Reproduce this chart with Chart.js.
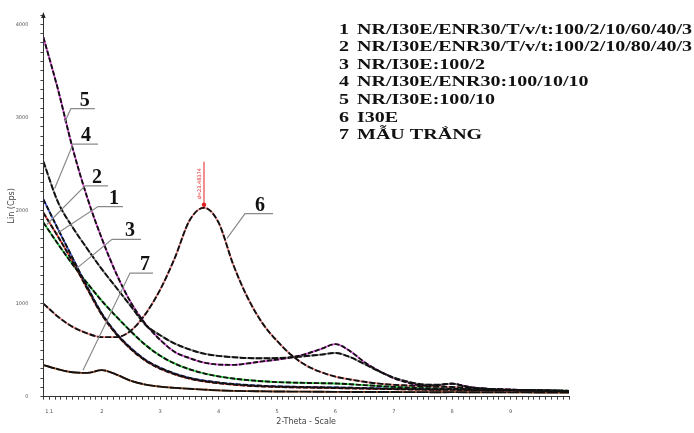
<!DOCTYPE html>
<html>
<head>
<meta charset="utf-8">
<script src="https://cdn.jsdelivr.net/npm/chart.js@4.4.1/dist/chart.umd.min.js"></script>
<style>
  html, body { margin: 0; padding: 0; background: #fff; }
  #wrap { width: 694px; height: 433px; }
</style>
</head>
<body>
<div id="wrap"><canvas id="c" width="694" height="433"></canvas></div>
<script>
// ---------- DATA ----------
const twoTheta = [1,1.25,1.5,1.75,2,2.25,2.5,2.75,3,3.25,3.5,3.75,4,4.25,4.5,4.75,5,5.25,5.5,5.75,6,6.25,6.5,6.75,7,7.25,7.5,7.75,8,8.25,8.5,8.75,9,9.25,9.5,9.75,10];

const s1 = [1975,1720,1450,1160,880,670,510,385,300,240,195,165,145,130,118,110,105,101,98,96,93,90,87,84,81,78,76,74,75,71,68,66,65,64,63,62,61];
const s2 = [2120,1800,1490,1180,895,680,520,395,310,248,202,172,152,137,125,117,111,107,104,101,99,96,93,89,86,83,80,78,79,75,72,70,68,66,65,64,63];
const s3 = [1870,1640,1420,1220,1030,860,700,555,440,355,295,250,218,195,178,166,157,152,148,145,142,134,124,114,105,97,91,87,86,80,76,73,71,69,67,65,63];
const s4 = [2525,2090,1820,1590,1370,1170,970,770,660,570,508,462,438,424,415,413,415,423,437,452,470,425,350,272,205,160,132,128,140,106,90,80,75,71,68,65,62];
const s5 = [3860,3300,2670,2140,1700,1320,1010,780,610,480,415,367,345,342,358,380,398,422,460,512,565,490,370,275,200,150,120,124,140,110,88,80,75,72,68,65,62];
const s6 = [1000,860,750,680,640,640,710,890,1150,1490,1890,2030,1870,1420,1060,790,600,445,335,265,215,185,160,140,128,120,112,107,104,94,86,80,74,70,66,63,60];
const s7 = [340,295,262,256,285,238,170,130,108,95,85,76,68,63,60,58,56,55,54,53,52,51,51,50,50,49,49,48,49,48,47,47,46,46,45,45,45];

const seriesIds = ['1','2','3','4','5','6','7'];
const legendTexts = [
  'NR/I30E/ENR30/T/v/t:100/2/10/60/40/3',
  'NR/I30E/ENR30/T/v/t:100/2/10/80/40/3',
  'NR/I30E:100/2',
  'NR/I30E/ENR30:100/10/10',
  'NR/I30E:100/10',
  'I30E',
  'MẪU TRẮNG'
];
const xTickLabels = ['1.1','2','3','4','5','6','7','8','9'];
const yTickLabels = ['0','1000','2000','3000','4000'];
const xTitle = '2-Theta - Scale';
const yTitle = 'Lin (Cps)';
const peakText = 'd=23.48374';

// ---------- STYLE ----------
const seriesData = [s1, s2, s3, s4, s5, s6, s7];
const tintColors = ['#e8453c', '#3b5bdb', '#2ecc40', '#8a8a8a', '#e055e0', '#f08a8a', '#c8642a'];
const dashes = [[5,2],[5,2],[5,2],[6,2],[5,2],[6,2],[12,1]];

// annotation callouts (anchor = left end of underline, tip = end of pointer), in data units
const callouts = [
  { t:'5', ux:1.47,  uy:3094, len:24, tx:14, tip:[1.365,2947] },
  { t:'4', ux:1.507, uy:2713, len:25, tx:13, tip:[1.193,2237] },
  { t:'2', ux:1.712, uy:2265, len:23, tx:12, tip:[1.057,1850] },
  { t:'1', ux:1.935, uy:2042, len:25, tx:16, tip:[1.233,1754] },
  { t:'3', ux:2.175, uy:1690, len:29, tx:18, tip:[1.575,1381] },
  { t:'7', ux:2.483, uy:1328, len:23, tx:15, tip:[1.678,284] },
  { t:'6', ux:4.452, uy:1967, len:28, tx:15, tip:[4.144,1701] }
];

const datasets = [];
seriesData.forEach((arr, k) => {
  const pts = twoTheta.map((x, i) => ({ x: x, y: arr[i] }));
  datasets.push({
    label: seriesIds[k] + ' tint', data: pts, borderColor: tintColors[k],
    borderWidth: 1.8, pointRadius: 0, cubicInterpolationMode: 'monotone', order: 2
  });
  datasets.push({
    label: seriesIds[k], data: pts, borderColor: '#111',
    borderWidth: 1.9, borderDash: dashes[k], pointRadius: 0, cubicInterpolationMode: 'monotone', order: 1
  });
});

const near = (a, b) => Math.abs(a - b) < 1e-6;

const overlay = {
  id: 'overlay',
  afterDraw(chart) {
    const { ctx, scales: { x, y } } = chart;
    ctx.save();
    // arrow on y axis
    const ax = x.getPixelForValue(x.min);
    const ay = y.getPixelForValue(y.max);
    ctx.fillStyle = '#222';
    ctx.beginPath();
    ctx.moveTo(ax, ay - 3);
    ctx.lineTo(ax - 2.2, ay + 3);
    ctx.lineTo(ax + 2.2, ay + 3);
    ctx.closePath();
    ctx.fill();

    // peak marker on series 6
    const pk = s6.indexOf(Math.max(...s6));
    const ppx = x.getPixelForValue(twoTheta[pk]);
    const ppy = y.getPixelForValue(s6[pk]);
    ctx.strokeStyle = '#e02020';
    ctx.lineWidth = 1;
    ctx.beginPath();
    ctx.moveTo(ppx, ppy - 3);
    ctx.lineTo(ppx, ppy - 46);
    ctx.stroke();
    ctx.fillStyle = '#e02020';
    ctx.beginPath();
    ctx.arc(ppx, ppy - 3, 2.2, 0, Math.PI * 2);
    ctx.fill();
    ctx.save();
    ctx.translate(ppx - 4, ppy - 24);
    ctx.rotate(-Math.PI / 2);
    ctx.font = '5px "DejaVu Sans"';
    ctx.textAlign = 'center';
    ctx.textBaseline = 'middle';
    ctx.fillText(peakText, 0, 0);
    ctx.restore();

    // callouts
    callouts.forEach(c => {
      const lx = x.getPixelForValue(c.ux), ly = y.getPixelForValue(c.uy);
      const tx = x.getPixelForValue(c.tip[0]), ty = y.getPixelForValue(c.tip[1]);
      ctx.strokeStyle = '#8a8a8a';
      ctx.lineWidth = 1.2;
      ctx.beginPath();
      ctx.moveTo(tx, ty);
      ctx.lineTo(lx, ly);
      ctx.lineTo(lx + c.len, ly);
      ctx.stroke();
      ctx.fillStyle = '#111';
      ctx.font = 'bold 20px "Liberation Serif"';
      ctx.textAlign = 'center';
      ctx.textBaseline = 'alphabetic';
      ctx.fillText(c.t, lx + c.tx, ly - 3);
    });

    // legend text block
    ctx.fillStyle = '#111';
    ctx.font = 'bold 15px "Liberation Serif"';
    ctx.textBaseline = 'alphabetic';
    const w0 = ctx.measureText(legendTexts[0]).width;
    const sx = 335 / w0;
    legendTexts.forEach((t, i) => {
      const yy = 28.5 + i * 17.6 + 5;
      ctx.save();
      ctx.translate(344, yy);
      ctx.scale(sx, 1);
      ctx.textAlign = 'center';
      ctx.fillText(seriesIds[i], 0, 0);
      ctx.restore();
      ctx.save();
      ctx.translate(357, yy);
      ctx.scale(sx, 1);
      ctx.textAlign = 'left';
      ctx.fillText(t, 0, 0);
      ctx.restore();
    });
    ctx.restore();
  }
};

new Chart(document.getElementById('c'), {
  type: 'line',
  data: { datasets: datasets },
  plugins: [overlay],
  options: {
    responsive: false,
    animation: false,
    events: [],
    layout: { padding: { top: 11.7, right: 125, left: 0, bottom: 0 } },
    plugins: { legend: { display: false }, tooltip: { enabled: false } },
    scales: {
      x: {
        type: 'linear', min: 1, max: 10,
        afterFit: s => { s.height = 36.3; },
        border: { display: true, color: '#333', width: 1 },
        grid: { drawOnChartArea: false, drawTicks: true, tickLength: 3, tickColor: '#444' },
        ticks: {
          stepSize: 0.1, autoSkip: false, maxRotation: 0, minRotation: 0, padding: 9,
          font: { size: 5, family: 'DejaVu Sans' }, color: '#555',
          callback: v => {
            const hit = xTickLabels.find(l => near(parseFloat(l), v));
            return hit !== undefined ? hit : '';
          }
        },
        title: { display: true, text: xTitle, color: '#444', font: { size: 8, family: 'DejaVu Sans' }, padding: { top: 0, bottom: 6.2 } }
      },
      y: {
        min: 0, max: 4100,
        afterFit: s => { s.width = 43.4; },
        border: { display: true, color: '#333', width: 1 },
        grid: { drawOnChartArea: false, drawTicks: true, tickLength: 3, tickColor: '#444' },
        ticks: {
          stepSize: 100, autoSkip: false, padding: 12,
          font: { size: 5, family: 'DejaVu Sans' }, color: '#555',
          callback: v => {
            const hit = yTickLabels.find(l => near(parseFloat(l), v));
            return hit !== undefined ? hit : '';
          }
        },
        title: { display: true, text: yTitle, color: '#444', font: { size: 8, family: 'DejaVu Sans' }, padding: { top: 7.2, bottom: 0 } }
      }
    }
  }
});
</script>
</body>
</html>
